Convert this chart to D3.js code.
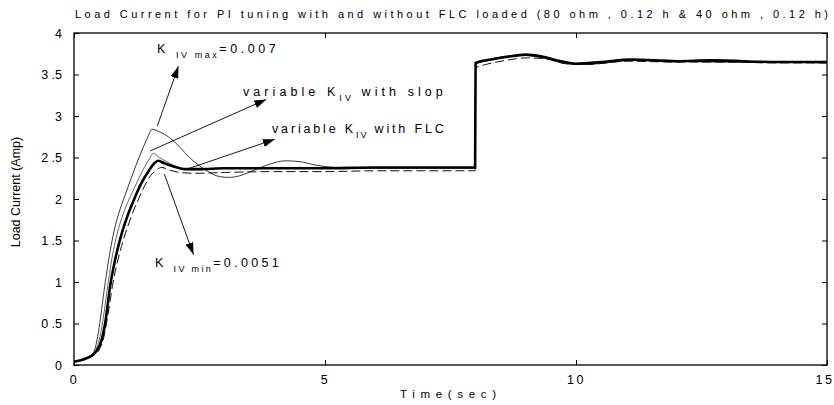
<!DOCTYPE html>
<html><head><meta charset="utf-8">
<script src="https://cdn.jsdelivr.net/npm/d3@7"></script>
<style>
body{margin:0;background:#fff;}
text{font-family:"Liberation Sans",Arial,sans-serif;fill:#000;}
</style></head>
<body><svg id="c" width="834" height="405"></svg>
<script>
// ---- data ----
const xTicks = [0, 5, 10, 15];
const xTickLabels = ["0", "5", "10", "15"];
const yTicks = [0, 0.5, 1, 1.5, 2, 2.5, 3, 3.5, 4];
const yTickLabels = ["0", "0 .5", "1", "1 .5", "2", "2 .5", "3", "3 .5", "4"];

// K_IV max = 0.007 (thin solid)
const tMax = [0,0.2,0.35,0.42,0.5,0.6,0.7,0.8,0.92,1.05,1.2,1.35,1.48,1.55,1.7,1.9,2.1,2.3,2.5,2.7,2.9,3.1,3.3,3.6,3.9,4.2,4.5,4.8,5.2,5.8,7,7.99,8.0,8.3,8.6,9.0,9.4,9.8,10.1,10.6,11.1,12,13,14,15];
const vMax = [0.04,0.07,0.12,0.2,0.45,0.9,1.3,1.62,1.88,2.1,2.35,2.58,2.76,2.84,2.81,2.74,2.63,2.5,2.4,2.32,2.27,2.26,2.28,2.35,2.42,2.46,2.45,2.41,2.38,2.37,2.37,2.37,3.62,3.68,3.72,3.73,3.69,3.63,3.62,3.64,3.67,3.66,3.65,3.65,3.64];

// variable K_IV with slop (thin solid)
const tSlop = [0,0.2,0.4,0.5,0.58,0.66,0.76,0.86,0.98,1.1,1.2,1.3,1.4,1.5,1.58,1.7,1.85,2.0,2.2,2.4,2.7,3,4,5,6,7,7.99,8.0,8.3,8.6,9.0,9.4,9.8,10.1,10.6,11.1,12,13,14,15];
const vSlop = [0.04,0.08,0.15,0.3,0.55,0.9,1.3,1.58,1.82,2.0,2.13,2.26,2.38,2.48,2.55,2.5,2.45,2.4,2.36,2.35,2.36,2.37,2.38,2.38,2.38,2.38,2.38,3.63,3.67,3.71,3.73,3.7,3.65,3.62,3.64,3.67,3.66,3.65,3.65,3.64];

// variable K_IV with FLC (thick solid)
const tFlc = [0,0.2,0.32,0.45,0.55,0.62,0.72,0.82,0.92,1.05,1.2,1.35,1.5,1.6,1.68,1.8,2.0,2.2,2.5,3,4,5,6,7,7.99,8.0,8.3,8.6,9.0,9.3,9.7,10.0,10.5,11.1,12,12.7,14,15];
const vFlc = [0.04,0.07,0.1,0.17,0.3,0.5,0.95,1.27,1.52,1.77,2.0,2.2,2.35,2.43,2.46,2.43,2.39,2.36,2.36,2.37,2.37,2.37,2.38,2.38,2.38,3.64,3.68,3.71,3.74,3.72,3.66,3.63,3.65,3.68,3.66,3.67,3.65,3.65];

// K_IV min = 0.0051 (dashed)
const tMin = [0,0.2,0.4,0.5,0.6,0.68,0.78,0.88,0.98,1.1,1.2,1.3,1.4,1.5,1.6,1.75,1.9,2.1,2.4,3,4,5,6,7,7.99,8.0,8.2,8.6,9.0,9.4,9.8,10.2,11,12,13,14,15];
const vMin = [0.04,0.07,0.12,0.18,0.35,0.62,1.0,1.28,1.5,1.72,1.88,2.02,2.15,2.26,2.33,2.38,2.35,2.32,2.31,2.32,2.33,2.33,2.34,2.34,2.34,3.58,3.62,3.67,3.7,3.69,3.63,3.62,3.66,3.65,3.65,3.64,3.64];

// ---- chart ----
const svg = d3.select("#c");
const L = 74, R = 827, T = 33, B = 365;
const x = d3.scaleLinear().domain([0, 15]).range([L, R]);
const y = d3.scaleLinear().domain([0, 4]).range([B, T]);

svg.append("defs").append("marker")
  .attr("id", "ah").attr("viewBox", "0 0 12 8").attr("refX", 12).attr("refY", 4)
  .attr("markerWidth", 12).attr("markerHeight", 8).attr("markerUnits", "userSpaceOnUse")
  .attr("orient", "auto")
  .append("path").attr("d", "M0,0L12,4L0,8Z").attr("fill", "#000");

const line = d3.line().x(d => x(d[0])).y(d => y(d[1])).curve(d3.curveMonotoneX);
const series = [
  {t: tMax, v: vMax, w: 0.9, dash: null, c: "#222"},
  {t: tSlop, v: vSlop, w: 0.9, dash: null, c: "#555"},
  {t: tMin, v: vMin, w: 1.0, dash: "9,4", c: "#111"},
  {t: tFlc, v: vFlc, w: 2.6, dash: null, c: "#000"}
];
series.forEach(s => {
  svg.append("path").datum(d3.zip(s.t, s.v)).attr("d", line)
    .attr("fill", "none").attr("stroke", s.c).attr("stroke-width", s.w)
    .attr("stroke-dasharray", s.dash);
});

// frame
svg.append("rect").attr("x", L).attr("y", T).attr("width", R - L).attr("height", B - T)
  .attr("fill", "none").attr("stroke", "#000").attr("stroke-width", 1.3);

// axes with inward ticks
const gx = svg.append("g").attr("transform", `translate(0,${B})`)
  .call(d3.axisBottom(x).tickValues(xTicks).tickSize(-5).tickPadding(10)
    .tickFormat((d, i) => xTickLabels[i]));
const gxt = svg.append("g").attr("transform", `translate(0,${T})`)
  .call(d3.axisTop(x).tickValues(xTicks).tickSize(-5).tickFormat(""));
const gy = svg.append("g").attr("transform", `translate(${L},0)`)
  .call(d3.axisLeft(y).tickValues(yTicks).tickSize(-5).tickPadding(12)
    .tickFormat((d, i) => yTickLabels[i]));
const gyr = svg.append("g").attr("transform", `translate(${R},0)`)
  .call(d3.axisRight(y).tickValues(yTicks).tickSize(-5).tickFormat(""));
[gx, gxt, gy, gyr].forEach(g => {
  g.select(".domain").remove();
  g.selectAll(".tick line").attr("stroke", "#000").attr("stroke-width", 1);
  g.selectAll("text").attr("font-size", 12.5).attr("font-family", "Liberation Sans, Arial, sans-serif").attr("fill", "#000");
});
gx.selectAll("text").attr("letter-spacing", 2.5);
gx.selectAll(".tick:last-of-type text").attr("text-anchor", "end").attr("x", 7);

// title & axis labels
svg.append("text").attr("x", 75).attr("y", 18).attr("font-size", 11)
  .attr("textLength", 753).attr("lengthAdjust", "spacing")
  .text("Load Current for PI tuning with and without FLC loaded (80 ohm , 0.12 h & 40 ohm , 0.12 h)");
svg.append("text").attr("x", 400).attr("y", 398).attr("font-size", 11.5)
  .attr("textLength", 96).attr("lengthAdjust", "spacing").text("Time(sec)");
svg.append("text").attr("transform", "translate(20,192) rotate(-90)").attr("text-anchor", "middle")
  .attr("font-size", 12.5).text("Load Current (Amp)");

// annotations
function label(x0, y0, main, sub, rest, len) {
  const t = svg.append("text").attr("x", x0).attr("y", y0).attr("font-size", 12.5)
    .attr("letter-spacing", 2.2);
  t.append("tspan").text(main);
  t.append("tspan").attr("dy", 5).attr("font-size", 9).attr("letter-spacing", 1.2).text(sub);
  t.append("tspan").attr("dy", -5).text(rest);
  if (len) t.attr("textLength", len).attr("lengthAdjust", "spacing");
}
label(157, 53, "K ", "IV max", "=0.007", 121);
label(243, 96, "variable K", "IV", "  with slop", 202);
label(272, 133, "variable K", "IV", " with FLC", 174);
label(155, 267, "K ", "IV min", "=0.0051", 126);

const arrows = [
  [[1.66, 2.88], [2.08, 3.6]],
  [[1.52, 2.58], [3.83, 3.2]],
  [[2.25, 2.36], [4.0, 2.72]],
  [[1.8, 2.3], [2.38, 1.33]]
];
arrows.forEach(a => {
  svg.append("line").attr("x1", x(a[0][0])).attr("y1", y(a[0][1]))
    .attr("x2", x(a[1][0])).attr("y2", y(a[1][1]))
    .attr("stroke", "#000").attr("stroke-width", 0.9).attr("marker-end", "url(#ah)");
});
</script></body></html>
